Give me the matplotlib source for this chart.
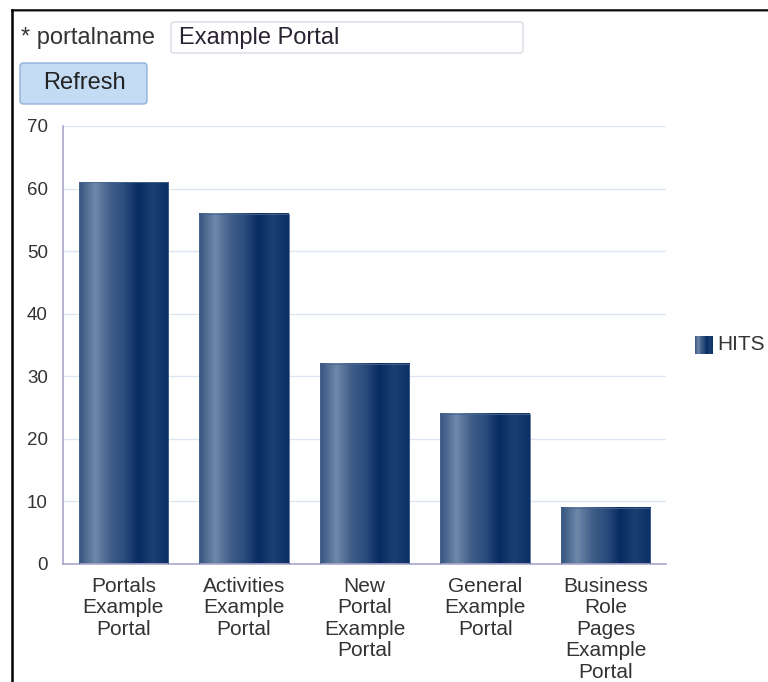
import numpy as np
import matplotlib
matplotlib.use('Agg')
import matplotlib.pyplot as plt
from matplotlib.colors import LinearSegmentedColormap
from matplotlib.patches import FancyBboxPatch, Rectangle
from matplotlib.lines import Line2D

categories = ['Portals\nExample\nPortal', 'Activities\nExample\nPortal',
              'New\nPortal\nExample\nPortal', 'General\nExample\nPortal',
              'Business\nRole\nPages\nExample\nPortal']
hits = [61, 56, 32, 24, 9]
yticks = [0, 10, 20, 30, 40, 50, 60, 70]
series_name = 'HITS'

plt.rcParams['font.family'] = ['Liberation Sans', 'DejaVu Sans']

# vertical sheen used on the bars and legend swatch
bar_cmap = LinearSegmentedColormap.from_list('sheen', [
    (0.0, '#34547f'), (0.18, '#6f88aa'), (0.35, '#3f5e88'),
    (0.5, '#2b4d7c'), (0.66, '#072c61'), (0.82, '#1c3f71'),
    (1.0, '#0c3066')])
grad = np.linspace(0, 1, 256).reshape(1, -1)

fig = plt.figure(figsize=(7.68, 6.82), dpi=100)
W, H = 768, 682


def fx(px):
    return px / W


def fy(py):
    return 1 - py / H


# window border (top and left)
fig.add_artist(Line2D([fx(12), 1], [fy(9.5), fy(9.5)], color='black', lw=1.8))
fig.add_artist(Line2D([fx(12), 1], [fy(11), fy(11)], color='#999999', lw=0.8))
fig.add_artist(Line2D([fx(12), fx(12)], [fy(9.5), 0], color='black', lw=1.8))

# form controls above the chart
fig.text(fx(21), fy(38), '* portalname', fontsize=17, color='#333333',
         va='center', ha='left')
fig.add_artist(FancyBboxPatch((fx(171), fy(53)), fx(352), (53 - 22) / H,
                              boxstyle='round,pad=0,rounding_size=0.004',
                              fc='white', ec='#d5dde5', lw=1,
                              transform=fig.transFigure))
fig.text(fx(179), fy(38), 'Example Portal', fontsize=17, color='#2a2233',
         va='center', ha='left')
fig.add_artist(FancyBboxPatch((fx(20), fy(104)), fx(127), (104 - 63) / H,
                              boxstyle='round,pad=0,rounding_size=0.005',
                              fc='#c4dbf4', ec='#8eb2da', lw=1,
                              transform=fig.transFigure))
fig.text(fx(84), fy(83), 'Refresh', fontsize=17, color='#222222',
         va='center', ha='center')

ax = fig.add_axes([fx(63), fy(564), fx(666 - 63), (564 - 126) / H])
x = np.arange(len(categories))
bars = ax.bar(x, hits, width=0.74, color='none', zorder=2)
for b in bars:
    ax.imshow(grad, cmap=bar_cmap, aspect='auto', zorder=2,
              extent=[b.get_x(), b.get_x() + b.get_width(), 0, b.get_height()])
    ax.add_patch(Rectangle((b.get_x(), 0), b.get_width(), b.get_height(),
                           fill=False, ec='#4a6690', lw=0.6, zorder=3))

ax.set_xlim(-0.5, len(categories) - 0.5)
ax.set_ylim(0, 70)
ax.set_yticks(yticks)
ax.set_xticks(x)
ax.set_xticklabels(categories, fontsize=15, color='#333333', linespacing=1.17)
ax.tick_params(axis='y', length=0, pad=11, labelsize=13.5, labelcolor='#333333')
ax.tick_params(axis='x', length=0, pad=9)
ax.grid(axis='y', color='#dde6f0', lw=1, zorder=0)
ax.set_axisbelow(True)
for s in ['top', 'right']:
    ax.spines[s].set_visible(False)
for s in ['left', 'bottom']:
    ax.spines[s].set_color('#a8a8cc')
    ax.spines[s].set_linewidth(1.2)

# legend swatch + label
lax = fig.add_axes([fx(695), fy(354), fx(18), 18 / H])
lax.imshow(grad, cmap=bar_cmap, aspect='auto')
lax.set_axis_off()
fig.text(fx(717), fy(345), series_name, fontsize=15, color='#333333',
         va='center', ha='left')

fig.savefig('out.png', dpi=100)
